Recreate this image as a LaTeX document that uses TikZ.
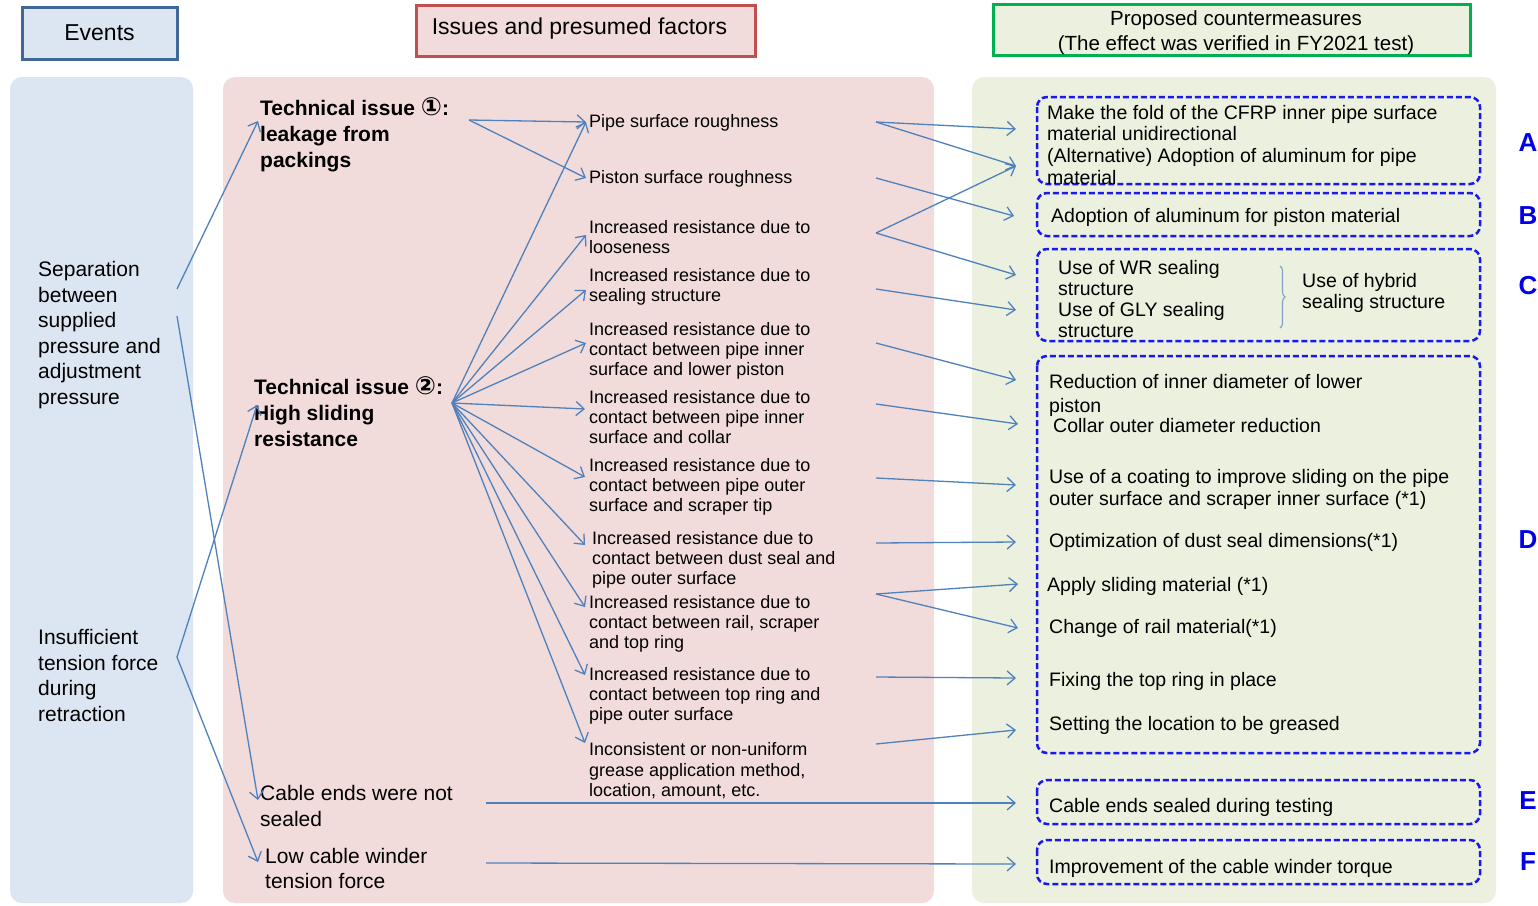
\documentclass[tikz,border=0pt]{standalone}
\usepackage{fontspec}
\setmainfont{Liberation Sans}
\newfontfamily\symf{DejaVu Sans}
\usetikzlibrary{arrows.meta,decorations.pathreplacing,shadows}
\definecolor{evfill}{RGB}{220,230,242}
\definecolor{evline}{RGB}{63,103,151}
\definecolor{isfill}{RGB}{242,220,219}
\definecolor{isline}{RGB}{192,80,77}
\definecolor{cmfill}{RGB}{235,241,222}
\definecolor{cmline}{RGB}{0,176,80}
\definecolor{arrc}{RGB}{79,129,189}
\definecolor{dashblue}{RGB}{25,25,235}
\definecolor{letblue}{RGB}{0,0,230}
\definecolor{bracec}{RGB}{130,160,200}
\newcommand\strutA{\rule{0pt}{14.4pt}}
\newcommand\strutB{\rule{0pt}{16.8pt}}
\newcommand\strutC{\rule{0pt}{15.6pt}}
\newcommand\circnum[1]{\smash{\symf\fontsize{25}{25}\selectfont #1}}
\tikzset{
  panel/.style={rounded corners=12pt, draw=none},
  hdrbox/.style={line width=3pt, inner sep=0pt, align=center,
     drop shadow={opacity=0.25, shadow xshift=2pt, shadow yshift=-2pt}},
  conn/.style={draw=arrc, line width=1.3pt,
     -{Straight Barb[length=8pt,width=14pt,line width=1.3pt]}},
  ta/.style={anchor=north west, inner sep=0pt, align=left, font=\fontsize{18}{20}\selectfont},
  tb/.style={anchor=north west, inner sep=0pt, align=left, font=\fontsize{21}{25.6}\selectfont},
  tbold/.style={anchor=north west, inner sep=0pt, align=left, font=\fontsize{21}{26}\selectfont\bfseries},
  tc/.style={anchor=north west, inner sep=0pt, align=left, font=\fontsize{19.5}{21.7}\selectfont},
  cmbox/.style={draw=dashblue, line width=2.5pt, dash pattern=on 6pt off 3pt, rounded corners=10pt},
  letter/.style={font=\fontsize{26}{28}\selectfont\bfseries, text=letblue, inner sep=0pt}
}
\begin{document}
\begin{tikzpicture}[x=1pt,y=-1pt]
\useasboundingbox (0,0) rectangle (1538,905);
\fill[white] (0,0) rectangle (1538,905);
% panels
\fill[panel, evfill] (10,77) rectangle (193,903);
\fill[panel, isfill] (223,77) rectangle (934,903);
\fill[panel, cmfill] (972,77) rectangle (1496,903);
% headers
\node[hdrbox, fill=evfill, draw=evline, minimum width=155pt, minimum height=52pt,
  font=\fontsize{23}{26}\selectfont] (hev) at (99.5,33) {Events};
\node[hdrbox, fill=isfill, draw=isline, minimum width=339pt, minimum height=51pt] (his) at (585.5,30.5) {};
\node[font=\fontsize{23}{26}\selectfont, inner sep=0pt] (histxt) at (579.5,29) {Issues and presumed factors};
\node[hdrbox, fill=cmfill, draw=cmline, minimum width=477pt, minimum height=51pt] (hcm) at (1231.5,29.5) {};
\node[font=\fontsize{20.5}{25}\selectfont, inner sep=0pt, align=center] (hcmtxt) at (1236,33)
  {Proposed countermeasures\\(The effect was verified in FY2021 test)};
% events
\node[tb] (ev1) at (38,259.5) {\strutB Separation\\between\\supplied\\pressure and\\adjustment\\pressure};
\node[tb] (ev2) at (38,627.5) {\strutB Insufficient\\tension force\\during\\retraction};
% issues
\node[tbold] (ti1) at (260,98.5) {\strutB Technical issue \circnum{①}:\\leakage from\\packings};
\node[tbold] (ti2) at (254,377.5) {\strutB Technical issue \circnum{②}:\\High sliding\\resistance};
\node[tb, font=\fontsize{21}{26}\selectfont] (ce) at (260,783.5) {\strutB Cable ends were not\\sealed};
\node[tb, font=\fontsize{21}{25}\selectfont] (lc) at (265,846.5) {\strutB Low cable winder\\tension force};
% factors
\node[ta] (f1) at (589,112.9) {\strutA Pipe surface roughness};
\node[ta] (f2) at (589,168.9) {\strutA Piston surface roughness};
\node[ta] (f3) at (589,218.9) {\strutA Increased resistance due to\\looseness};
\node[ta] (f4) at (589,266.9) {\strutA Increased resistance due to\\sealing structure};
\node[ta] (f5) at (589,320.9) {\strutA Increased resistance due to\\contact between pipe inner\\surface and lower piston};
\node[ta] (f6) at (589,388.9) {\strutA Increased resistance due to\\contact between pipe inner\\surface and collar};
\node[ta] (f7) at (589,456.9) {\strutA Increased resistance due to\\contact between pipe outer\\surface and scraper tip};
\node[ta] (f8) at (592,529.9) {\strutA Increased resistance due to\\contact between dust seal and\\pipe outer surface};
\node[ta] (f9) at (589,593.9) {\strutA Increased resistance due to\\contact between rail, scraper\\and top ring};
\node[ta] (f10) at (589,665.9) {\strutA Increased resistance due to\\contact between top ring and\\pipe outer surface};
\node[ta, font=\fontsize{18}{20.5}\selectfont] (f11) at (589,740.9) {\strutA Inconsistent or non-uniform\\grease application method,\\location, amount, etc.};
% countermeasure boxes
\draw[cmbox] (1037,97) rectangle (1480,184);
\draw[cmbox] (1037,193) rectangle (1480,236);
\draw[cmbox] (1037,249) rectangle (1480,341);
\draw[cmbox] (1037,356) rectangle (1480,753);
\draw[cmbox] (1037,780) rectangle (1480,824);
\draw[cmbox] (1037,840) rectangle (1480,884);
% countermeasure texts
\node[tc] (cA) at (1047,103.2) {\strutC Make the fold of the CFRP inner pipe surface\\material unidirectional\\(Alternative) Adoption of aluminum for pipe\\material};
\node[tc] (cB) at (1051,206.2) {\strutC Adoption of aluminum for piston material};
\node[tc, font=\fontsize{19.5}{21.3}\selectfont] (cC1) at (1058,258.2) {\strutC Use of WR sealing\\structure\\Use of GLY sealing\\structure};
\node[tc, font=\fontsize{19.5}{21}\selectfont] (cC2) at (1302,271.2) {\strutC Use of hybrid\\sealing structure};
\draw[decorate, decoration={brace, amplitude=5pt}, draw=bracec, line width=1.1pt] (1280,266) -- (1280,328);
\node[tc, font=\fontsize{19.5}{24}\selectfont] (cD1) at (1049,372.2) {\strutC Reduction of inner diameter of lower\\piston};
\node[tc] (cD2) at (1053,416.2) {\strutC Collar outer diameter reduction};
\node[tc, font=\fontsize{19.5}{22}\selectfont] (cD3) at (1049,467.2) {\strutC Use of a coating to improve sliding on the pipe\\outer surface and scraper inner surface (*1)};
\node[tc] (cD4) at (1049,531.2) {\strutC Optimization of dust seal dimensions(*1)};
\node[tc] (cD5) at (1047,575.2) {\strutC Apply sliding material (*1)};
\node[tc] (cD6) at (1049,617.2) {\strutC Change of rail material(*1)};
\node[tc] (cD7) at (1049,670.2) {\strutC Fixing the top ring in place};
\node[tc] (cD8) at (1049,714.2) {\strutC Setting the location to be greased};
\node[tc] (cE) at (1049,796.2) {\strutC Cable ends sealed during testing};
\node[tc] (cF) at (1049,857.2) {\strutC Improvement of the cable winder torque};
% letters
\node[letter] (lA) at (1528,143) {A};
\node[letter] (lB) at (1528,216) {B};
\node[letter] (lC) at (1528,286) {C};
\node[letter] (lD) at (1528,540) {D};
\node[letter] (lE) at (1528,801) {E};
\node[letter] (lF) at (1528,862) {F};
% connector coordinates
\coordinate (e1a) at (177,289);
\coordinate (e1b) at (177,316);
\coordinate (e2) at (177,657);
\coordinate (ti1in) at (258,121);
\coordinate (ti2in) at (257,405);
\coordinate (cein) at (258,800);
\coordinate (lcin) at (258,862);
\coordinate (ti1out) at (469,120);
\coordinate (ti2out) at (452,403);
\coordinate (f1in) at (586,122);
\coordinate (f2in) at (586,178);
\coordinate (f3in) at (586,235);
\coordinate (f4in) at (586,290);
\coordinate (f5in) at (586,343);
\coordinate (f6in) at (585,409);
\coordinate (f7in) at (585,477);
\coordinate (f8in) at (585,545);
\coordinate (f9in) at (585,607);
\coordinate (f10in) at (585,675);
\coordinate (f11in) at (585,743);
\coordinate (f1out) at (876,122);
\coordinate (f2out) at (876,178);
\coordinate (f3out) at (876,233);
\coordinate (f4out) at (876,289);
\coordinate (f5out) at (876,343);
\coordinate (f6out) at (876,404);
\coordinate (f7out) at (876,478);
\coordinate (f8out) at (876,543);
\coordinate (f9out) at (876,594);
\coordinate (f10out) at (876,677);
\coordinate (f11out) at (876,744);
\coordinate (ceout) at (486,803);
\coordinate (lcout) at (486,863);
\coordinate (rA1) at (1016,129);
\coordinate (rA2) at (1016,166);
\coordinate (rB) at (1014,216);
\coordinate (rC1) at (1016,275);
\coordinate (rC2) at (1016,310);
\coordinate (rD1) at (1016,380);
\coordinate (rD2) at (1018,424);
\coordinate (rD3) at (1016,485);
\coordinate (rD4) at (1016,542);
\coordinate (rD5) at (1018,584);
\coordinate (rD6) at (1018,628);
\coordinate (rD7) at (1016,678);
\coordinate (rD8) at (1016,730);
\coordinate (rE) at (1016,803);
\coordinate (rF) at (1016,864);
% event connectors
\draw[conn] (e1a) -- (ti1in);
\draw[conn] (e1b) -- (cein);
\draw[conn] (e2) -- (ti2in);
\draw[conn] (e2) -- (lcin);
% issue connectors
\draw[conn] (ti1out) -- (f1in);
\draw[conn] (ti1out) -- (f2in);
\foreach \t in {f1in,f3in,f4in,f5in,f6in,f7in,f8in,f9in,f10in,f11in}
  \draw[conn] (ti2out) -- (\t);
% countermeasure connectors
\draw[conn] (f1out) -- (rA1);
\draw[conn] (f1out) -- (rA2);
\draw[conn] (f2out) -- (rB);
\draw[conn] (f3out) -- (rA2);
\draw[conn] (f3out) -- (rC1);
\draw[conn] (f4out) -- (rC2);
\draw[conn] (f5out) -- (rD1);
\draw[conn] (f6out) -- (rD2);
\draw[conn] (f7out) -- (rD3);
\draw[conn] (f8out) -- (rD4);
\draw[conn] (f9out) -- (rD5);
\draw[conn] (f9out) -- (rD6);
\draw[conn] (f10out) -- (rD7);
\draw[conn] (f11out) -- (rD8);
\draw[conn] (ceout) -- (rE);
\draw[conn] (lcout) -- (rF);
\end{tikzpicture}
\end{document}
